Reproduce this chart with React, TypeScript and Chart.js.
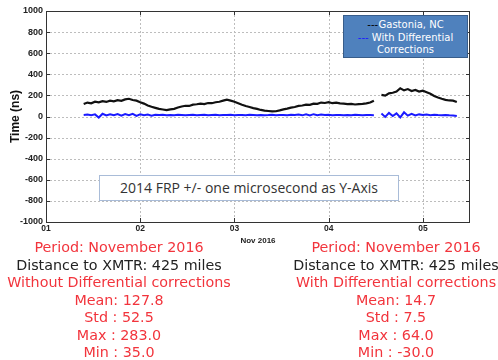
import React, { useEffect, useRef } from "react";
import { Chart, registerables } from "chart.js";
Chart.register(...registerables);

const days = [
  1.40, 1.44, 1.48, 1.52, 1.56, 1.60, 1.64, 1.68, 1.72, 1.76,
  1.80, 1.84, 1.88, 1.92, 1.96, 2.00, 2.04, 2.08, 2.12, 2.16,
  2.20, 2.24, 2.28, 2.32, 2.36, 2.40, 2.44, 2.48, 2.52, 2.56,
  2.60, 2.64, 2.68, 2.72, 2.76, 2.80, 2.84, 2.88, 2.92, 2.96,
  3.00, 3.04, 3.08, 3.12, 3.16, 3.20, 3.24, 3.28, 3.32, 3.36,
  3.40, 3.44, 3.48, 3.52, 3.56, 3.60, 3.64, 3.68, 3.72, 3.76,
  3.80, 3.84, 3.88, 3.92, 3.96, 4.00, 4.04, 4.08, 4.12, 4.16,
  4.20, 4.24, 4.28, 4.32, 4.36, 4.40, 4.44, 4.48, 4.52, 4.56,
  4.60, 4.64, 4.68, 4.72, 4.76, 4.80, 4.84, 4.88, 4.92, 4.96,
  5.00, 5.04, 5.08, 5.12, 5.16, 5.20, 5.24, 5.28, 5.32, 5.36,
];

const withoutCorrections = [
  118, 132, 125, 140, 134, 145, 138, 150, 144, 155,
  148, 162, 168, 156, 150, 135, 122, 105, 92, 82,
  72, 66, 60, 68, 72, 85, 95, 102, 100, 112,
  116, 122, 118, 128, 126, 135, 140, 150, 160, 150,
  140, 126, 112, 100, 90, 80, 72, 62, 56, 52,
  48, 50, 58, 68, 75, 84, 90, 100, 104, 112,
  110, 122, 120, 132, 128, 136, 126, 132, 124, 122,
  118, 120, 114, 118, 120, 124, 132, 150, null, 205,
  198, 220, 225, 236, 268, 248, 260, 242, 252, 236,
  244, 230, 215, 195, 180, 168, 158, 152, 150, 138,
];

const withCorrections = [
  14, 18, 12, 20, -10, 26, 10, 22, 12, 24,
  8, 24, 12, 26, 6, 20, 12, 18, 8, 17,
  14, 16, 12, 15, 13, 16, 14, 12, 15, 17,
  13, 15, 16, 12, 14, 16, 13, 15, 14, 16,
  12, 14, 15, 13, 16, 14, 12, 15, 13, 14,
  16, 12, 14, 15, 13, 16, 14, 18, 11, 21,
  9, 22, 12, 19, 14, 16, 13, 15, 14, 12,
  15, 13, 16, 14, 12, 15, 14, 13, null, 28,
  -4, 34, 4, 30, -8, 40, 8, 26, 10, 20,
  14, 18, 12, 16, 14, 13, 15, 12, 10, 4,
];

const xTickValues = [1, 2, 3, 4, 5];
const xTickLabels = ["01", "02", "03", "04", "05"];
const yTickValues = [-1000, -800, -600, -400, -200, 0, 200, 400, 600, 800, 1000];

const leftStats = [
  "Period: November 2016",
  "Distance to XMTR: 425 miles",
  "Without Differential corrections",
  "Mean: 127.8",
  "Std : 52.5",
  "Max : 283.0",
  "Min : 35.0",
];
const rightStats = [
  "Period: November 2016",
  "Distance to XMTR: 425 miles",
  "With Differential corrections",
  "Mean: 14.7",
  "Std : 7.5",
  "Max : 64.0",
  "Min : -30.0",
];
const statColors = ["#f2343c", "#222222", "#f2343c", "#f2343c", "#f2343c", "#f2343c", "#f2343c"];

const gridPlugin = {
  id: "matlabGrid",
  beforeDatasetsDraw(chart: any) {
    const { ctx, chartArea } = chart;
    const { left, right, top, bottom } = chartArea;
    const xs = chart.scales.x;
    const ys = chart.scales.y;
    ctx.save();
    ctx.strokeStyle = "#bdbdbd";
    ctx.lineWidth = 1;
    ctx.setLineDash([2, 2]);
    ctx.beginPath();
    xTickValues.slice(1).forEach((v) => {
      const px = Math.round(xs.getPixelForValue(v)) + 0.5;
      ctx.moveTo(px, top);
      ctx.lineTo(px, bottom);
    });
    yTickValues.slice(1, -1).forEach((v) => {
      const py = Math.round(ys.getPixelForValue(v)) + 0.5;
      ctx.moveTo(left, py);
      ctx.lineTo(right, py);
    });
    ctx.stroke();
    ctx.restore();
  },
  afterDraw(chart: any) {
    const { ctx, chartArea } = chart;
    const { left, right, top, bottom } = chartArea;
    const xs = chart.scales.x;
    const ys = chart.scales.y;
    ctx.save();
    ctx.strokeStyle = "#333";
    ctx.lineWidth = 1;
    ctx.strokeRect(left + 0.5, top + 0.5, right - left - 1, bottom - top);
    const t = 4;
    ctx.beginPath();
    xTickValues.forEach((v) => {
      const px = Math.round(xs.getPixelForValue(v)) + 0.5;
      ctx.moveTo(px, bottom);
      ctx.lineTo(px, bottom - t);
      ctx.moveTo(px, top);
      ctx.lineTo(px, top + t);
    });
    yTickValues.forEach((v) => {
      const py = Math.round(ys.getPixelForValue(v)) + 0.5;
      ctx.moveTo(left, py);
      ctx.lineTo(left + t, py);
      ctx.moveTo(right, py);
      ctx.lineTo(right - t, py);
    });
    ctx.stroke();
    ctx.restore();
  },
};

export default function App() {
  const ref = useRef<HTMLCanvasElement>(null);
  useEffect(() => {
    if (!ref.current) return;
    const chart = new Chart(ref.current, {
      type: "line",
      data: {
        datasets: [
          {
            label: "Gastonia, NC",
            data: days.map((d, i) => ({ x: d, y: withoutCorrections[i] })) as any,
            borderColor: "#111111",
            borderWidth: 2.2,
            pointRadius: 0,
            spanGaps: false,
          },
          {
            label: "With Differential Corrections",
            data: days.map((d, i) => ({ x: d, y: withCorrections[i] })) as any,
            borderColor: "#1a1aff",
            borderWidth: 2,
            pointRadius: 0,
            spanGaps: false,
          },
        ],
      },
      options: {
        animation: false,
        responsive: false,
        maintainAspectRatio: false,
        layout: { padding: { left: 0, right: 28, top: 11, bottom: 0 } },
        plugins: { legend: { display: false }, tooltip: { enabled: false } },
        scales: {
          x: {
            type: "linear",
            min: 1,
            max: 5.5,
            afterBuildTicks: (s: any) => {
              s.ticks = xTickValues.map((v) => ({ value: v }));
            },
            afterFit: (s: any) => {
              s.height = 28;
            },
            ticks: {
              callback: (v: any) => xTickLabels[xTickValues.indexOf(Number(v))] ?? "",
              font: { family: "Liberation Sans", size: 8.5, weight: "bold" },
              color: "#222",
              padding: 2,
              maxRotation: 0,
              minRotation: 0,
              autoSkip: false,
            },
            grid: { display: true, color: "rgba(0,0,0,0)", drawTicks: false },
            border: { display: false },
            title: {
              display: true,
              text: "Nov 2016",
              font: { family: "Liberation Sans", size: 8, weight: "bold" },
              color: "#222",
              padding: { top: 0, bottom: 4 },
            },
          },
          y: {
            type: "linear",
            min: -1000,
            max: 1000,
            afterBuildTicks: (s: any) => {
              s.ticks = yTickValues.map((v) => ({ value: v }));
            },
            afterFit: (s: any) => {
              s.width = 46;
            },
            ticks: {
              callback: (v: any) => String(v),
              font: { family: "Liberation Sans", size: 9, weight: "bold" },
              color: "#222",
              padding: 3,
              autoSkip: false,
            },
            grid: { display: true, color: "rgba(0,0,0,0)", drawTicks: false },
            border: { display: false },
            title: {
              display: true,
              text: "Time (ns)",
              font: { family: "Liberation Sans", size: 12, weight: "bold" },
              color: "#111",
              padding: { top: 8, bottom: 0 },
            },
          },
        },
      },
      plugins: [gridPlugin],
    } as any);
    return () => chart.destroy();
  }, []);

  const statStyle = (center: number): React.CSSProperties => ({
    position: "absolute",
    left: center - 130,
    top: 239,
    width: 260,
    textAlign: "center",
    fontFamily: "'DejaVu Sans', Verdana, sans-serif",
    fontSize: 14.3,
    lineHeight: "17.5px",
    whiteSpace: "nowrap",
  });

  return (
    <div style={{ position: "fixed", left: 0, top: 0, width: 498, height: 360, background: "#fff", overflow: "hidden" }}>
      <canvas ref={ref} width={498} height={250} style={{ position: "absolute", left: 0, top: 0, width: 498, height: 250 }} />
      <div
        style={{
          position: "absolute",
          left: 343,
          top: 15,
          width: 125,
          height: 43,
          boxSizing: "border-box",
          background: "#4f81bd",
          border: "1px solid #385d8a",
          color: "#fff",
          fontFamily: "'DejaVu Sans', sans-serif",
          fontSize: 10,
          lineHeight: "12.5px",
          textAlign: "center",
          paddingTop: 3,
          whiteSpace: "nowrap",
        }}
      >
        <div><span style={{ color: "#000" }}>---</span>Gastonia, NC</div>
        <div><span style={{ color: "#1a1aff" }}>---</span> With Differential</div>
        <div>Corrections</div>
      </div>
      <div
        style={{
          position: "absolute",
          left: 99,
          top: 175,
          width: 300,
          height: 26,
          boxSizing: "border-box",
          border: "1px solid #a9bcd8",
          background: "#fff",
          color: "#333",
          fontFamily: "'Open Sans', sans-serif",
          fontSize: 14,
          lineHeight: "24px",
          textAlign: "center",
          whiteSpace: "nowrap",
        }}
      >
        2014 FRP +/- one microsecond as Y-Axis
      </div>
      <div style={statStyle(119)}>
        {leftStats.map((s, i) => (
          <div key={i} style={{ color: statColors[i] }}>{s}</div>
        ))}
      </div>
      <div style={statStyle(396)}>
        {rightStats.map((s, i) => (
          <div key={i} style={{ color: statColors[i] }}>{s}</div>
        ))}
      </div>
    </div>
  );
}
